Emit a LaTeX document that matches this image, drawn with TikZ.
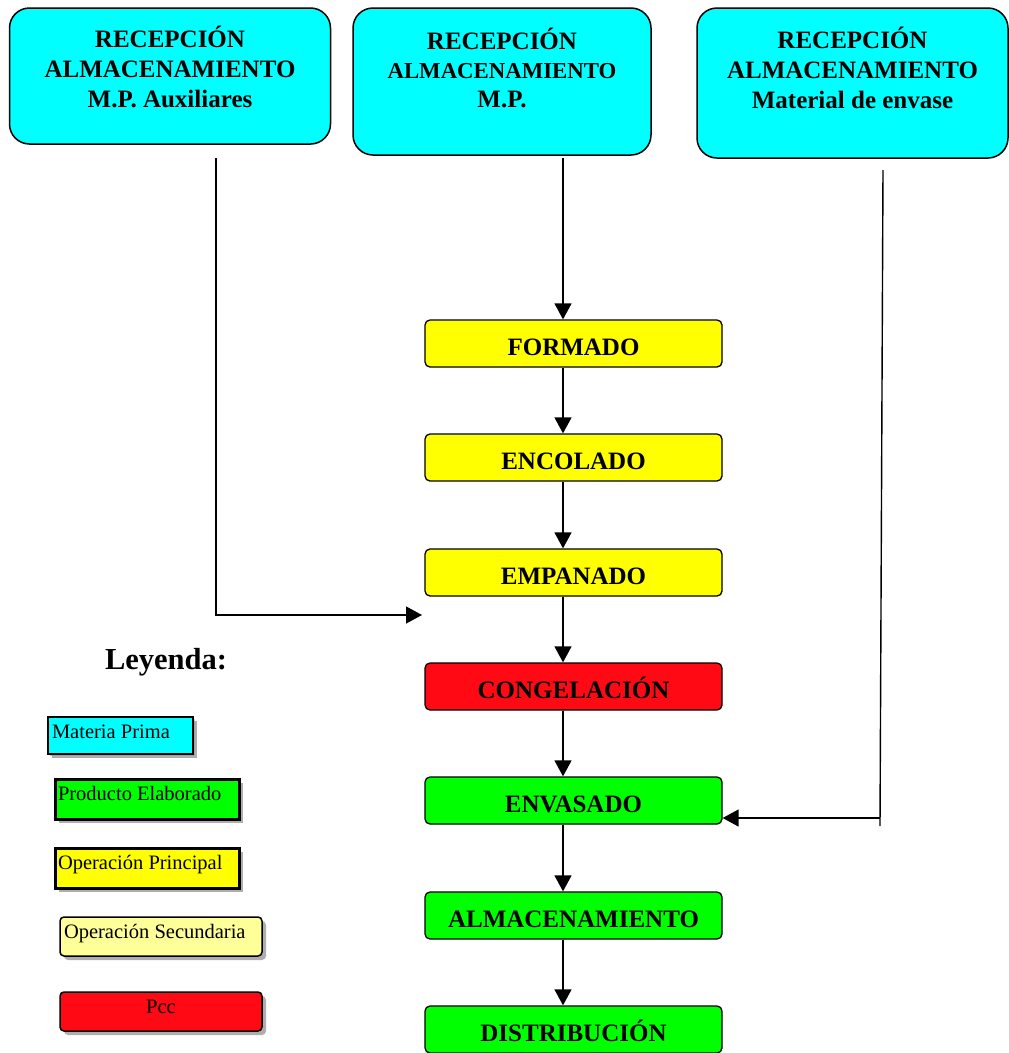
\documentclass[tikz,border=0pt]{standalone}
\usepackage{fontspec}
\setmainfont{Liberation Serif}
\usetikzlibrary{arrows.meta,shadows}

\definecolor{mpcyan}{RGB}{0,255,255}
\definecolor{opyellow}{RGB}{255,255,0}
\definecolor{secyellow}{RGB}{255,255,153}
\definecolor{pccred}{RGB}{255,10,20}
\definecolor{prodgreen}{RGB}{0,255,0}

\newcommand{\toptext}[2]{\raisebox{#1pt}[0pt][0pt]{\begin{tabular}[b]{@{}c@{}}#2\end{tabular}}}
\newcommand{\flowtext}[1]{\raisebox{-12pt}[0pt][0pt]{#1}}
\newcommand{\legtext}[3]{\makebox[#1pt][l]{\raisebox{#2pt}[0pt][0pt]{#3}}}

\begin{document}
\begin{tikzpicture}[x=1pt,y=-1pt,
  srcbox/.style={draw=black, line width=1.5pt, fill=mpcyan, rounded corners=20pt,
    inner sep=0pt, font=\fontsize{25}{30}\selectfont\bfseries},
  flowbox/.style={draw=black, line width=1.3pt, rounded corners=5pt, inner sep=0pt,
    minimum width=297pt, minimum height=47pt, font=\fontsize{25}{30}\selectfont\bfseries},
  legbox/.style={draw=black, inner sep=0pt, font=\fontsize{20.5}{23}\selectfont,
    drop shadow={shadow xshift=4pt, shadow yshift=-4pt, fill=black!45, opacity=0.7}},
  flowarrow/.style={draw=black, line width=1.4pt, -{Triangle[width=17pt,length=16pt]}}
]
\path[use as bounding box] (0,0) rectangle (1009,1053);

% raw material sources
\node[srcbox, minimum width=321pt, minimum height=136pt] (aux) at (170,76)
  {\toptext{-31}{RECEPCIÓN\\ALMACENAMIENTO\\M.P. Auxiliares}};
\node[srcbox, minimum width=298pt, minimum height=147pt] (mp) at (502,81.5)
  {\raisebox{-25.5pt}[0pt][0pt]{\begin{tabular}[b]{@{}c@{}}RECEPCIÓN\\[-1pt]
   {\fontsize{22.8}{30}\selectfont ALMACENAMIENTO}\\[-1pt] M.P.\end{tabular}}};
\node[srcbox, minimum width=311pt, minimum height=150pt] (env) at (852.5,83)
  {\toptext{-25}{RECEPCIÓN\\ALMACENAMIENTO\\Material de envase}};

% main process line
\node[flowbox, fill=opyellow] (formado) at (573.5,343.5) {\flowtext{FORMADO}};
\node[flowbox, fill=opyellow] (encolado) at (573.5,457.5) {\flowtext{ENCOLADO}};
\node[flowbox, fill=opyellow] (empanado) at (573.5,572.5) {\flowtext{EMPANADO}};
\node[flowbox, fill=pccred] (congel) at (573.5,686.5) {\flowtext{CONGELACIÓN}};
\node[flowbox, fill=prodgreen] (envasado) at (573.5,800.5) {\flowtext{ENVASADO}};
\node[flowbox, fill=prodgreen] (almac) at (573.5,915.5) {\flowtext{ALMACENAMIENTO}};
\node[flowbox, fill=prodgreen] (distrib) at (573.5,1029.5) {\flowtext{DISTRIBUCIÓN}};

% arrows along the main line
\coordinate (mpout) at (563,158);
\draw[flowarrow] (mpout) -- (mpout |- formado.north);
\draw[flowarrow] (formado.south -| mpout) -- (encolado.north -| mpout);
\draw[flowarrow] (encolado.south -| mpout) -- (empanado.north -| mpout);
\draw[flowarrow] (empanado.south -| mpout) -- (congel.north -| mpout);
\draw[flowarrow] (congel.south -| mpout) -- (envasado.north -| mpout);
\draw[flowarrow] (envasado.south -| mpout) -- (almac.north -| mpout);
\draw[flowarrow] (almac.south -| mpout) -- (distrib.north -| mpout);

% auxiliary materials feed
\coordinate (auxout) at (216,158);
\coordinate (auxin) at (422,615);
\draw[flowarrow] (auxout) |- (auxin);

% packaging material feed
\coordinate (envout) at (883,170);
\coordinate (envdown) at (880,826);
\coordinate (envturn) at (880,818);
\draw[line width=1.4pt] (envout) -- (envdown);
\draw[flowarrow] (envturn) -- (envasado.east |- envturn);

% legend
\node[font=\fontsize{30.5}{34}\selectfont\bfseries] (leyenda) at (166,662) {Leyenda:};
\node[legbox, line width=2pt, fill=mpcyan, minimum width=145pt, minimum height=37pt,
  drop shadow={shadow xshift=2pt, shadow yshift=-2pt, fill=black!40, opacity=0.5}]
  (lmp) at (120.5,735.5) {\legtext{137}{-2.5}{Materia Prima}};
\node[legbox, line width=3pt, fill=prodgreen, minimum width=184pt, minimum height=40pt]
  (lpe) at (147,799) {\legtext{178}{-1}{Producto Elaborado}};
\node[legbox, line width=3pt, fill=opyellow, minimum width=184pt, minimum height=40pt]
  (lop) at (147,868) {\legtext{178}{-1}{Operación Principal}};
\node[legbox, line width=1.5pt, fill=secyellow, rounded corners=4pt, minimum width=202pt,
  minimum height=39pt] (los) at (161,936.5) {\legtext{194}{-1.5}{Operación Secundaria}};
\node[legbox, line width=1.5pt, fill=pccred, rounded corners=4pt, minimum width=202pt,
  minimum height=39pt] (lpcc) at (161,1011.5) {\raisebox{-1.5pt}[0pt][0pt]{Pcc}};
\end{tikzpicture}
\end{document}
